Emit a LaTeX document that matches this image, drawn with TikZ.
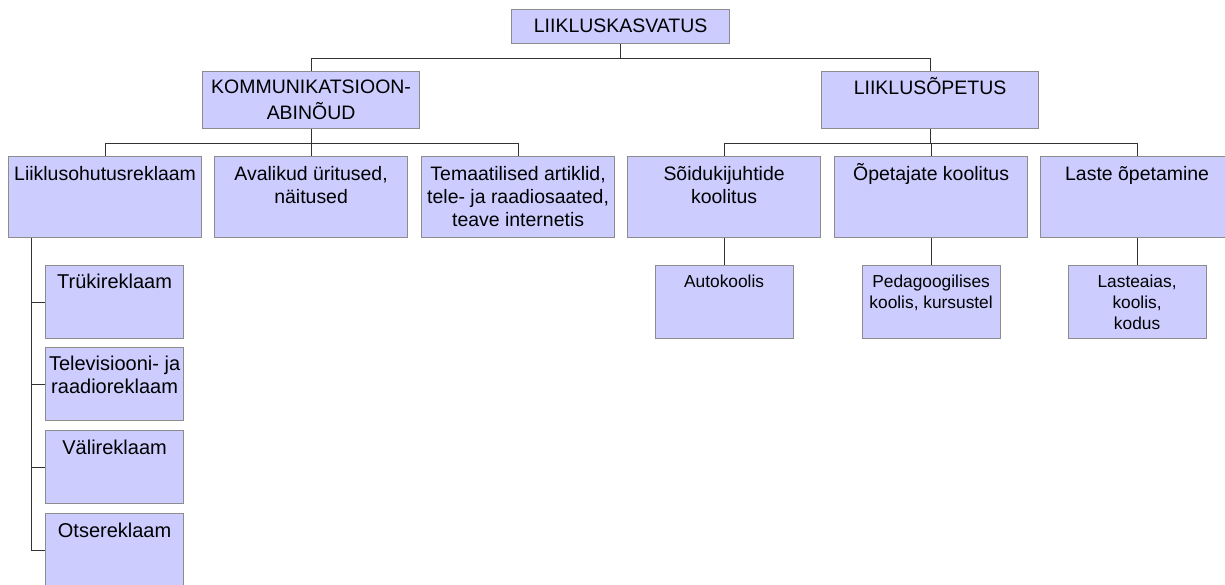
\documentclass[tikz,border=0pt]{standalone}
\usepackage{fontspec}
\setmainfont{Liberation Sans}
\usetikzlibrary{calc}
\definecolor{boxfill}{RGB}{204,204,255}
\definecolor{boxline}{RGB}{140,140,140}
\definecolor{linkline}{RGB}{50,50,50}
\newcommand{\boxtext}[4]{\parbox[t]{#1}{\centering\fontsize{#2}{#3}\selectfont #4}}
\begin{document}
\begin{tikzpicture}[x=0.75pt,y=-0.75pt,
  bx/.style={draw=boxline, fill=boxfill, line width=0.9pt, inner sep=0pt, anchor=north west},
  topbox/.style={bx, minimum width=163.5pt, minimum height=25.5pt},
  lvtwo/.style={bx, minimum width=162.75pt, minimum height=42.75pt},
  lvthree/.style={bx, minimum width=144.75pt, minimum height=60.75pt},
  lvfour/.style={bx, minimum width=103.5pt, minimum height=54.75pt},
  txt/.style={anchor=base, inner sep=0pt},
  link/.style={draw=linkline, line width=0.75pt}]
\useasboundingbox (0,0) rectangle (1225,585);
\clip (0,0) rectangle (1225,585);
% boxes
\node[topbox] (top) at (511,9) {};
\node[lvtwo] (komm) at (202,71) {};
\node[lvtwo] (lop) at (821,71) {};
\node[lvthree] (liik) at (8,156) {};
\node[lvthree] (avl) at (214,156) {};
\node[lvthree] (tem) at (421,156) {};
\node[lvthree] (soid) at (627,156) {};
\node[lvthree] (ope) at (834,156) {};
\node[lvthree] (las) at (1040,156) {};
\node[lvfour] (trk) at (45,265) {};
\node[lvfour] (tv) at (45,347) {};
\node[lvfour] (vali) at (45,430) {};
\node[lvfour] (otse) at (45,513) {};
\node[lvfour] (auto) at (654.5,265) {};
\node[lvfour] (ped) at (861.5,265) {};
\node[lvfour] (lae) at (1067.5,265) {};
% texts
\node[txt] (top-t) at ($(top.north)+(0,24)$) {\boxtext{163.5pt}{14.6}{17.5}{LIIKLUSKASVATUS}};
\node[txt] (komm-t) at ($(komm.north)+(0,22.5)$) {\boxtext{162.75pt}{14.6}{19.5}{KOMMUNIKATSIOON-\\ABINÕUD}};
\node[txt] (lop-t) at ($(lop.north)+(0,23)$) {\boxtext{162.75pt}{14.6}{19.5}{LIIKLUSÕPETUS}};
\node[txt] (liik-t) at ($(liik.north)+(0,24)$) {\boxtext{144.75pt}{14.6}{17.6}{Liiklusohutusreklaam}};
\node[txt] (avl-t) at ($(avl.north)+(0,24)$) {\boxtext{144.75pt}{14.6}{17.6}{Avalikud üritused,\\näitused}};
\node[txt] (tem-t) at ($(tem.north)+(0,24)$) {\boxtext{144.75pt}{14.6}{17.6}{Temaatilised artiklid,\\tele- ja raadiosaated,\\teave internetis}};
\node[txt] (soid-t) at ($(soid.north)+(0,24)$) {\boxtext{144.75pt}{14.6}{17.6}{Sõidukijuhtide\\koolitus}};
\node[txt] (ope-t) at ($(ope.north)+(0,24)$) {\boxtext{144.75pt}{14.6}{17.6}{Õpetajate koolitus}};
\node[txt] (las-t) at ($(las.north)+(0,24)$) {\boxtext{144.75pt}{14.6}{17.6}{Laste õpetamine}};
\node[txt] (trk-t) at ($(trk.north)+(0,23)$) {\boxtext{103.5pt}{15}{17.6}{Trükireklaam}};
\node[txt] (tv-t) at ($(tv.north)+(0,23.5)$) {\boxtext{103.5pt}{15}{17.6}{Televisiooni- ja\\raadioreklaam}};
\node[txt] (vali-t) at ($(vali.north)+(0,24)$) {\boxtext{103.5pt}{15}{17.6}{Välireklaam}};
\node[txt] (otse-t) at ($(otse.north)+(0,24)$) {\boxtext{103.5pt}{15}{17.6}{Otsereklaam}};
\node[txt] (auto-t) at ($(auto.north)+(0,22)$) {\boxtext{103.5pt}{13}{15.75}{Autokoolis}};
\node[txt] (ped-t) at ($(ped.north)+(0,22)$) {\boxtext{103.5pt}{13}{15.75}{Pedagoogilises\\koolis, kursustel}};
\node[txt] (lae-t) at ($(lae.north)+(0,22)$) {\boxtext{103.5pt}{13}{15.75}{Lasteaias,\\koolis,\\kodus}};
% connectors
\draw[link] (top.south) -- ++(0,14) -| (komm.north);
\draw[link] (top.south) -- ++(0,14) -| (lop.north);
\draw[link] (komm.south) -- ++(0,14) -| (liik.north);
\draw[link] (komm.south) -- ++(0,14) -| (avl.north);
\draw[link] (komm.south) -- ++(0,14) -| (tem.north);
\draw[link] (lop.south) -- ++(0,14) -| (soid.north);
\draw[link] (lop.south) -- ++(0,14) -| (ope.north);
\draw[link] (lop.south) -- ++(0,14) -| (las.north);
\coordinate (bus) at ($(liik.south west)+(23,0)$);
\draw[link] (bus) |- (trk.west);
\draw[link] (bus) |- (tv.west);
\draw[link] (bus) |- (vali.west);
\draw[link] (bus) |- (otse.west);
\draw[link] (soid.south) -- (soid.south |- auto.north);
\draw[link] (ope.south) -- (ope.south |- ped.north);
\draw[link] (las.south) -- (las.south |- lae.north);
\end{tikzpicture}
\end{document}
